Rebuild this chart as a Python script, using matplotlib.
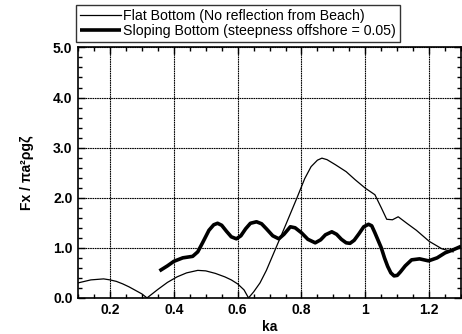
import numpy as np
import matplotlib
matplotlib.use('Agg')
import matplotlib.pyplot as plt
from matplotlib.ticker import MultipleLocator, FixedLocator

plt.rcParams['font.family'] = ['Liberation Sans', 'DejaVu Sans']

######## DATA ################################
ka_flat = [0.10, 0.12, 0.14, 0.16, 0.18, 0.20, 0.22, 0.24, 0.26, 0.28, 0.30, 0.316,
           0.33, 0.35, 0.38, 0.41, 0.44, 0.475, 0.50, 0.53, 0.56, 0.58, 0.60, 0.62, 0.634,
           0.65, 0.67, 0.69, 0.72, 0.75, 0.786, 0.81, 0.83, 0.85, 0.864,
           0.88, 0.906, 0.94, 0.968, 1.0, 1.03, 1.05, 1.067, 1.085, 1.103,
           1.13, 1.16, 1.2, 1.24, 1.275]
fx_flat = [0.30, 0.33, 0.36, 0.37, 0.38, 0.36, 0.33, 0.28, 0.22, 0.15, 0.08, 0.0,
           0.07, 0.17, 0.31, 0.42, 0.50, 0.55, 0.54, 0.49, 0.42, 0.36, 0.28, 0.16, 0.0,
           0.12, 0.30, 0.55, 1.0, 1.45, 2.0, 2.38, 2.62, 2.75, 2.79,
           2.76, 2.66, 2.52, 2.36, 2.19, 2.06, 1.80, 1.57, 1.56, 1.62,
           1.49, 1.35, 1.13, 0.98, 0.92]

ka_slope = [0.355, 0.38, 0.40, 0.428, 0.459, 0.475, 0.49, 0.51, 0.525, 0.537, 0.55,
            0.565, 0.58, 0.596, 0.61, 0.625, 0.64, 0.659, 0.675, 0.69, 0.71, 0.729,
            0.745, 0.765, 0.78, 0.80, 0.82, 0.843, 0.86, 0.875, 0.895, 0.91, 0.925,
            0.94, 0.952, 0.965, 0.98, 0.995, 1.01, 1.02, 1.03, 1.04, 1.05, 1.06,
            1.07, 1.08, 1.09, 1.10, 1.11, 1.125, 1.145, 1.17, 1.198, 1.225, 1.25,
            1.275, 1.3]
fx_slope = [0.54, 0.64, 0.73, 0.80, 0.83, 0.92, 1.10, 1.35, 1.46, 1.49, 1.45,
            1.33, 1.22, 1.18, 1.24, 1.38, 1.49, 1.52, 1.48, 1.38, 1.24, 1.18,
            1.27, 1.42, 1.40, 1.30, 1.17, 1.10, 1.16, 1.26, 1.32, 1.27, 1.17,
            1.10, 1.09, 1.15, 1.28, 1.42, 1.47, 1.44, 1.30, 1.15, 1.00, 0.80,
            0.63, 0.50, 0.44, 0.45, 0.52, 0.64, 0.76, 0.78, 0.74, 0.80, 0.90,
            0.96, 1.03]

labels = ['Flat Bottom (No reflection from Beach)',
          'Sloping Bottom (steepness offshore = 0.05)']
x_ticks = [0.2, 0.4, 0.6, 0.8, 1.0, 1.2]
x_ticklabels = ['0.2', '0.4', '0.6', '0.8', '1', '1.2']
y_ticks = [0, 1, 2, 3, 4, 5]
y_ticklabels = ['0.0', '1.0', '2.0', '3.0', '4.0', '5.0']

######## PLOT #########
fig = plt.figure(figsize=(4.62, 3.34), dpi=100)
ax = fig.add_axes([0.169, 0.108, 0.829, 0.750])

l1, = ax.plot(ka_flat, fx_flat, color='black', lw=0.9)
l2, = ax.plot(ka_slope, fx_slope, color='black', lw=2.6, solid_capstyle='butt')

ax.set_xlim(0.1, 1.3)
ax.set_ylim(0, 5)
ax.xaxis.set_major_locator(FixedLocator(x_ticks))
ax.set_xticklabels(x_ticklabels, fontweight='bold', fontsize=10)
ax.xaxis.set_minor_locator(MultipleLocator(0.05))
ax.yaxis.set_major_locator(FixedLocator(y_ticks))
ax.set_yticklabels(y_ticklabels, fontweight='bold', fontsize=10)
ax.yaxis.set_minor_locator(MultipleLocator(0.2))
ax.tick_params(which='both', direction='in', top=True, right=True, width=1)
ax.tick_params(which='major', length=5, pad=4)
ax.tick_params(which='minor', length=3)

# dense dotted grid, close to solid like the scanned original
ax.grid(True, which='major', color='black', lw=0.8, linestyle=(0, (1.5, 0.6)))
for s in ax.spines.values():
    s.set_linewidth(1.2)

ax.set_xlabel('ka', fontweight='bold', fontsize=10, labelpad=2)
ax.set_ylabel('Fx / \u03c0a\u00b2\u03c1g\u03b6', fontweight='bold', fontsize=10, labelpad=14)

leg = fig.legend([l1, l2], labels, loc='upper left',
                 bbox_to_anchor=(0.164, 0.985), fontsize=10.2,
                 handlelength=2.9, handletextpad=0.1, labelspacing=0.05,
                 borderpad=0.3, borderaxespad=0, fancybox=False, frameon=True)
leg.get_frame().set_edgecolor('black')
leg.get_frame().set_linewidth(1.0)

fig.savefig('out.png', dpi=100)
